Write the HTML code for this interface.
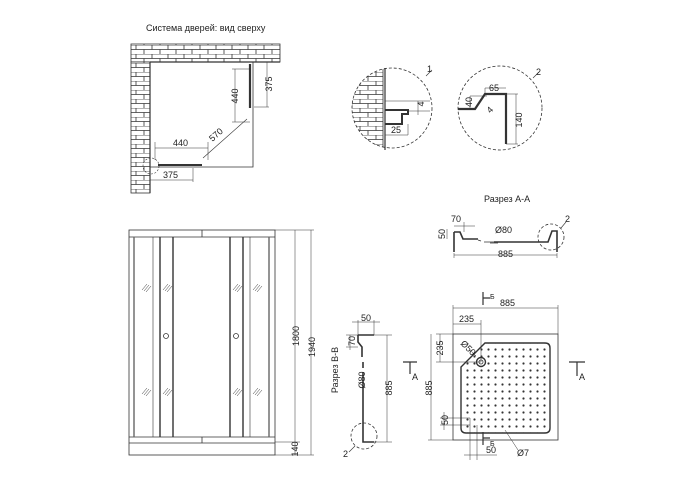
<!DOCTYPE html>
<html><head><meta charset="utf-8"><style>
html,body{margin:0;padding:0;background:#fff}
svg{display:block}
text{font-family:"Liberation Sans",sans-serif;font-size:9px;fill:#222}
.r{text-anchor:middle}
</style></head><body>
<svg width="700" height="500" viewBox="0 0 700 500" xmlns="http://www.w3.org/2000/svg">
<defs>
<pattern id="brick" width="16" height="9" patternUnits="userSpaceOnUse">
<rect width="16" height="9" fill="#fff"/>
<path d="M0 0H16M0 4.5H16M8 0V4.5M0 4.5V9M16 4.5V9" stroke="#333" stroke-width="0.8" fill="none"/>
</pattern>
<pattern id="dots" x="464" y="346" width="7" height="7" patternUnits="userSpaceOnUse">
<circle cx="3.5" cy="3.5" r="1.1" fill="#333"/>
</pattern>
<clipPath id="c1"><circle cx="392" cy="108" r="40"/></clipPath>
</defs>
<g fill="none" stroke="#333" stroke-width="0.8">

<!-- Top plan -->
<text x="146" y="31" stroke="none">Система дверей: вид сверху</text>
<rect x="131" y="44" width="149" height="18" fill="url(#brick)"/>
<rect x="131" y="62" width="19" height="131" fill="url(#brick)"/>
<path d="M150 62H280M150 62V193" stroke-width="1.2"/>
<path d="M150 167H253V62"/>
<path d="M250 64V108" stroke-width="2.2"/>
<path d="M158 165H202" stroke-width="2"/>
<path d="M203 158L247 119" stroke-width="0.6"/>
<text class="r" stroke="none" transform="translate(218,137) rotate(-42)">570</text>
<path d="M155 148H208M155 142V160M208 142V160" stroke-width="0.5"/>
<text x="173" y="146" stroke="none">440</text>
<path d="M150 180H193M193 168V182" stroke-width="0.5"/>
<text x="163" y="178" stroke="none">375</text>
<path d="M235 69V122M232 69H250M232 122H250" stroke-width="0.5"/>
<text class="r" stroke="none" transform="translate(238,96) rotate(-90)">440</text>
<path d="M267 62V107M254 107H269" stroke-width="0.5"/>
<text class="r" stroke="none" transform="translate(272,84) rotate(-90)">375</text>
<circle cx="151" cy="166" r="8" stroke-dasharray="2 1.5" stroke-width="0.6"/>

<!-- Detail 1 -->
<g clip-path="url(#c1)"><rect x="350" y="60" width="33" height="100" fill="url(#brick)"/></g>
<path d="M385 68V150" stroke-width="1.2"/>
<circle cx="392" cy="108" r="40" stroke-dasharray="3 2"/>
<path d="M426 76L432 70" stroke-width="0.6"/><text x="427" y="72" stroke="none">1</text>
<path d="M385 110H408V114H402V124H385" stroke-width="2"/>
<path d="M385 101H430M408 111H430M418 101V115M408 124V135M385 135H408" stroke-width="0.5"/>
<text class="r" stroke="none" transform="translate(424,104) rotate(-90)">4</text>
<text x="391" y="133" stroke="none">25</text>

<!-- Detail 2 -->
<circle cx="500" cy="108" r="42" stroke-dasharray="3 2"/>
<path d="M533 78L539 72" stroke-width="0.6"/><text x="536" y="75" stroke="none">2</text>
<path d="M458 109H475L485 94H506V144" stroke-width="2.2"/>
<path d="M485 88V93M506 88H485M516 94V144M506 94H518M506 144H518M470 96V109M470 96H487" stroke-width="0.5"/>
<text x="489" y="91" stroke="none">65</text>
<text class="r" stroke="none" transform="translate(472,102) rotate(-90)">40</text>
<text class="r" stroke="none" transform="translate(522,120) rotate(-90)">140</text>
<text class="r" stroke="none" transform="translate(492,112) rotate(-45)">4</text>

<!-- Section A-A -->
<text x="484" y="202" stroke="none">Разрез А-А</text>
<path d="M454 232V252M454 232H460L463 239H478" stroke-width="1.6"/>
<path d="M481 241L478 240M484 242H520M490 243H498" stroke-width="0.8"/>
<path d="M494 242H548L552 231H557V252" stroke-width="1.6"/>
<path d="M454 253V258M557 253V258M454 255H557" stroke-width="0.5"/>
<text x="498" y="257" stroke="none">885</text>
<path d="M454 226H475M464 222V232M447 229V239" stroke-width="0.5"/>
<text x="451" y="222" stroke="none">70</text>
<text class="r" stroke="none" transform="translate(445,234) rotate(-90)">50</text>
<text x="495" y="233" stroke="none">Ø80</text>
<circle cx="551" cy="237" r="13" stroke-dasharray="3 2"/>
<path d="M561 228L566 222" stroke-width="0.6"/><text x="565" y="222" stroke="none">2</text>

<!-- Front view -->
<rect x="129" y="230" width="146" height="225"/>
<path d="M129 237H275M129 437H275M129 443H275M202 230V237M202 437V443"/>
<path d="M134 237V437M269 237V437" stroke-width="1.4" stroke="#666"/>
<path d="M160 237V437M173 237V437M230 237V437M243 237V437" stroke-width="1.4"/>
<path d="M153 237V437M250 237V437" stroke-width="0.6"/>
<circle cx="166" cy="336" r="2.5"/><circle cx="236" cy="336" r="2.5"/>
<g stroke-width="0.5">
<path d="M142 290l5-6M144 291l5-6M146 292l5-6M163 290l5-6M165 291l5-6M167 292l5-6M233 290l5-6M235 291l5-6M237 292l5-6M253 290l5-6M255 291l5-6M257 292l5-6"/>
<path d="M142 394l5-6M144 395l5-6M146 396l5-6M163 394l5-6M165 395l5-6M167 396l5-6M233 394l5-6M235 395l5-6M237 396l5-6M253 394l5-6M255 395l5-6M257 396l5-6"/>
<path d="M275 230H314M275 442H300M275 455H314M295 230V455M311 230V455"/>
</g>
<text class="r" stroke="none" transform="translate(299,336) rotate(-90)">1800</text>
<text class="r" stroke="none" transform="translate(315,347) rotate(-90)">1940</text>
<text class="r" stroke="none" transform="translate(298,449) rotate(-90)">140</text>

<!-- Section B-B -->
<text class="r" stroke="none" transform="translate(338,370) rotate(-90)">Разрез В-В</text>
<path d="M358 335H374M358 335V342L362 347V357M363 362V368M363 372V442H374" stroke-width="1.6"/>
<path d="M358 320V335M374 320V335M352 322H380M350 335V350M346 335H358M346 347H358" stroke-width="0.5"/>
<text x="361" y="321" stroke="none">50</text>
<text class="r" stroke="none" transform="translate(355,341) rotate(-90)">70</text>
<text class="r" stroke="none" transform="translate(365,380) rotate(-90)">Ø80</text>
<path d="M374 335H392M374 442H392M387 335V442" stroke-width="0.5"/>
<text class="r" stroke="none" transform="translate(392,388) rotate(-90)">885</text>
<circle cx="364" cy="436" r="13" stroke-dasharray="3 2"/>
<path d="M355 446L349 452" stroke-width="0.6"/><text x="343" y="457" stroke="none">2</text>

<!-- Tray plan -->
<path d="M483 292V305M483 298H490" stroke-width="1.2"/><text x="490" y="299" stroke="none" style="font-size:7px">Б</text>
<path d="M483 432V445M483 438H490" stroke-width="1.2"/><text x="490" y="446" stroke="none" style="font-size:7px">Б</text>
<path d="M403 362H417M410 362V374" stroke-width="1.2"/><text x="412" y="380" stroke="none">A</text>
<path d="M569 362H585M577 362V376" stroke-width="1.2"/><text x="579" y="380" stroke="none">A</text>
<rect x="453" y="334" width="105" height="106"/>
<path d="M485 343H545Q550 343 550 348V428Q550 433 545 433H466Q461 433 461 428V367Z" fill="url(#dots)" stroke-width="1.4"/>
<circle cx="481" cy="362" r="4.5" fill="#fff" stroke-width="1.4"/><circle cx="481" cy="362" r="2"/>
<g stroke-width="0.5">
<path d="M453 308H558M453 305V334M558 305V334"/>
<path d="M453 324H481M481 320V362"/>
<path d="M436 334H453M436 362H481M440 334V362"/>
<path d="M428 440H453M431 334V440"/>
<path d="M440 418H470M440 425H470M444 412V430"/>
<path d="M470 418V460M477 425V460M464 455H497"/>
<path d="M505 430L518 450"/>
<path d="M470 350L476 356"/>
</g>
<text x="500" y="306" stroke="none">885</text>
<text x="459" y="322" stroke="none">235</text>
<text class="r" stroke="none" transform="translate(443,348) rotate(-90)">235</text>
<text class="r" stroke="none" transform="translate(432,388) rotate(-90)">885</text>
<text class="r" stroke="none" transform="translate(448,420) rotate(-90)">50</text>
<text x="486" y="453" stroke="none">50</text>
<text x="517" y="456" stroke="none">Ø7</text>
<text class="r" stroke="none" transform="translate(466,350) rotate(45)">Ø50</text>
</g>
</svg>
</body></html>
